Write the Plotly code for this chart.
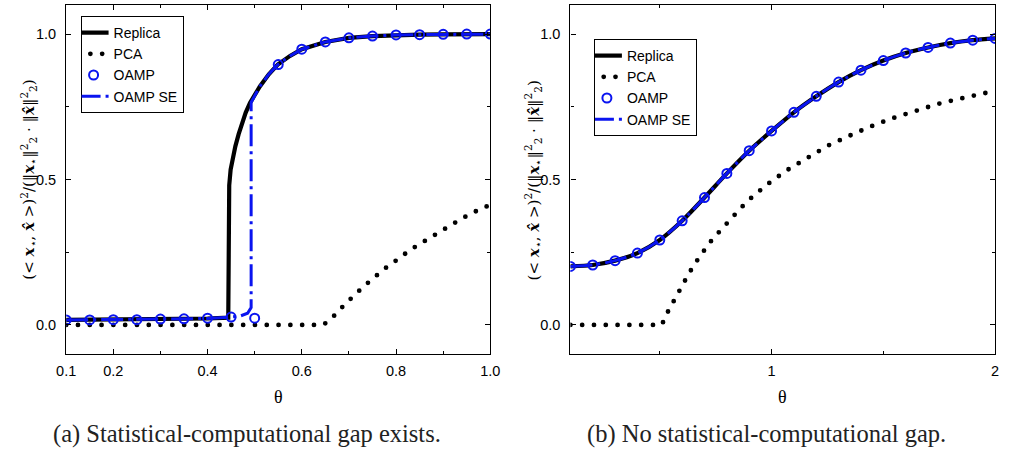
import plotly.graph_objects as go

W, H = 1010, 450

# ---------------- data: panel (a) ----------------
rep_a_theta = [0.1, 0.2, 0.3, 0.4, 0.444, 0.444, 0.446, 0.449, 0.454, 0.459, 0.466, 0.473, 0.481, 0.49,
               0.511, 0.53, 0.549, 0.575, 0.6, 0.65, 0.7, 0.75, 0.8, 0.85, 0.9, 0.95, 1.0]
rep_a_val = [0.017, 0.018, 0.020, 0.022, 0.025, 0.41, 0.48, 0.534, 0.58, 0.614, 0.656, 0.695, 0.73, 0.763,
             0.82, 0.862, 0.895, 0.925, 0.948, 0.973, 0.987, 0.993, 0.997, 0.998, 0.999, 1.0, 1.0]

se_a_theta = [0.1, 0.2, 0.3, 0.4, 0.45, 0.47, 0.485, 0.4925, 0.4925, 0.511, 0.53, 0.549, 0.575, 0.6,
              0.65, 0.7, 0.75, 0.8, 0.85, 0.9, 0.95, 1.0]
se_a_val = [0.017, 0.018, 0.020, 0.022, 0.027, 0.031, 0.040, 0.06, 0.765, 0.82, 0.862, 0.895, 0.925, 0.948,
            0.973, 0.987, 0.993, 0.997, 0.998, 0.999, 1.0, 1.0]

oamp_a_theta = [0.1, 0.15, 0.2, 0.25, 0.3, 0.35, 0.4, 0.45, 0.5, 0.55, 0.6, 0.65, 0.7, 0.75, 0.8,
                0.85, 0.9, 0.95, 1.0]
oamp_a_val = [0.017, 0.017, 0.018, 0.018, 0.020, 0.021, 0.023, 0.027, 0.023, 0.895, 0.948, 0.973, 0.987,
              0.993, 0.997, 0.998, 0.999, 1.0, 1.0]

pca_a_theta = [0.1, 0.645, 0.66, 0.676, 0.695, 0.714, 0.732, 0.752, 0.771, 0.792, 0.811, 0.832, 0.853,
               0.874, 0.896, 0.917, 0.938, 0.96, 0.983, 1.0]
pca_a_val = [0.0, 0.0, 0.017, 0.046, 0.077, 0.105, 0.134, 0.160, 0.188, 0.212, 0.236, 0.26, 0.281,
             0.302, 0.326, 0.345, 0.364, 0.384, 0.401, 0.413]

# ---------------- data: panel (b) ----------------
oamp_b_theta = [0.1, 0.2, 0.3, 0.4, 0.5, 0.6, 0.7, 0.8, 0.9, 1.0, 1.1, 1.2, 1.3, 1.4, 1.5, 1.6, 1.7,
                1.8, 1.9, 2.0]
oamp_b_val = [0.201, 0.206, 0.221, 0.247, 0.292, 0.358, 0.438, 0.521, 0.599, 0.667, 0.731, 0.786,
              0.835, 0.876, 0.909, 0.935, 0.954, 0.969, 0.979, 0.985]
rep_b_theta = oamp_b_theta
rep_b_val = oamp_b_val
se_b_theta = oamp_b_theta
se_b_val = oamp_b_val

pca_b_theta = [0.1, 0.509, 0.531, 0.555, 0.578, 0.604, 0.631, 0.66, 0.689, 0.721, 0.755, 0.79, 0.825,
               0.86, 0.897, 0.938, 0.982, 1.069, 1.157, 1.251, 1.347, 1.442, 1.542, 1.641, 1.74, 1.843,
               1.945, 2.0]
pca_b_val = [0.0, 0.0, 0.038, 0.072, 0.109, 0.143, 0.178, 0.214, 0.247, 0.281, 0.311, 0.342, 0.370,
             0.400, 0.429, 0.456, 0.484, 0.532, 0.573, 0.616, 0.650, 0.682, 0.711, 0.736, 0.759, 0.778,
             0.797, 0.805]

# tick labels
xa_ticks = [0.1, 0.2, 0.4, 0.6, 0.8, 1.0]
xa_labels = ["0.1", "0.2", "0.4", "0.6", "0.8", "1.0"]
xb_ticks = [1, 2]
xb_labels = ["1", "2"]
y_ticks = [0.0, 0.5, 1.0]
y_labels = ["0.0", "0.5", "1.0"]

captions = ["(a) Statistical-computational gap exists.", "(b) No statistical-computational gap."]

BLUE = "#0a14f0"
SE_DASH = "22px,5px,3px,5px"
DOT_DASH = "0px,11.8px"

fig = go.Figure()


def add_panel(xa, ya, leg, rep, pca, oamp, se):
    fig.add_trace(go.Scatter(x=rep[0], y=rep[1], mode="lines", name="Replica", xaxis=xa, yaxis=ya,
                             line=dict(color="black", width=4.2, shape=rep[2], smoothing=0.8),
                             legend=leg, legendrank=1))
    fig.add_trace(go.Scatter(x=pca[0], y=pca[1], mode="lines", name="PCA", xaxis=xa, yaxis=ya,
                             line=dict(color="black", width=4.8, dash=DOT_DASH), legend=leg, legendrank=2))
    fig.add_trace(go.Scatter(x=se[0], y=se[1], mode="lines", name="OAMP SE", xaxis=xa, yaxis=ya,
                             line=dict(color=BLUE, width=3, dash=SE_DASH, shape=se[2], smoothing=0.8),
                             legend=leg, legendrank=4))
    fig.add_trace(go.Scatter(x=oamp[0], y=oamp[1], mode="markers", name="OAMP", xaxis=xa, yaxis=ya,
                             marker=dict(symbol="circle-open", size=9, color=BLUE, line=dict(width=2, color=BLUE)),
                             legend=leg, legendrank=3))


add_panel("x", "y", "legend", (rep_a_theta, rep_a_val, "linear"), (pca_a_theta, pca_a_val),
          (oamp_a_theta, oamp_a_val), (se_a_theta, se_a_val, "linear"))
add_panel("x2", "y2", "legend2", (rep_b_theta, rep_b_val, "spline"), (pca_b_theta, pca_b_val),
          (oamp_b_theta, oamp_b_val), (se_b_theta, se_b_val, "spline"))

L1, R1 = 57.3, 490.0
L2, R2 = 571.7, 1005.0
TOP, BOT = 5.0, 354.0

axis_common = dict(showline=True, linecolor="black", linewidth=1.3, mirror="ticks", ticks="inside",
                   ticklen=5, tickwidth=1, tickcolor="black", showgrid=False, zeroline=False,
                   tickfont=dict(family="Liberation Sans, Arial", size=14.5, color="black"))

legend_common = dict(xanchor="left", yanchor="top", bgcolor="white", bordercolor="black", borderwidth=1,
                     tracegroupgap=0, traceorder="normal", indentation=-8,
                     font=dict(family="Liberation Sans, Arial", size=14, color="black"))

fig.update_layout(
    width=W, height=H, margin=dict(l=0, r=0, t=0, b=0),
    paper_bgcolor="white", plot_bgcolor="white",
    xaxis=dict(domain=[L1 / W, R1 / W], range=[0.1, 1.0], tickvals=xa_ticks, ticktext=xa_labels,
               minor=dict(ticks="inside", ticklen=3, dtick=0.1, tick0=0, tickcolor="black"),
               anchor="y", ticklabelstandoff=3, **axis_common),
    yaxis=dict(domain=[1 - BOT / H, 1 - TOP / H], range=[-0.1, 1.1], tickvals=y_ticks, ticktext=y_labels,
               minor=dict(ticks="inside", ticklen=3, tickvals=[0.25, 0.75], tickcolor="black"),
               anchor="x", ticklabelstandoff=6, **axis_common),
    xaxis2=dict(domain=[L2 / W, R2 / W], range=[0.1, 2.0], tickvals=xb_ticks, ticktext=xb_labels,
                minor=dict(ticks="inside", ticklen=3, tickvals=[0.5, 1.5], tickcolor="black"),
                anchor="y2", ticklabelstandoff=3, **axis_common),
    yaxis2=dict(domain=[1 - BOT / H, 1 - TOP / H], range=[-0.1, 1.1], tickvals=y_ticks, ticktext=y_labels,
                minor=dict(ticks="inside", ticklen=3, tickvals=[0.25, 0.75], tickcolor="black"),
                anchor="x2", ticklabelstandoff=6, **axis_common),
    legend=dict(x=72 / W, y=1 - 16 / H, **legend_common),
    legend2=dict(x=595.7 / W, y=1 - 39 / H, **legend_common),
    showlegend=True,
)

ytitle = ("(< <b><i>x</i></b><sub>⋆</sub>, <b><i>x̂</i></b> >)<sup>2</sup>/"
          "(‖<b><i>x</i></b><sub>⋆</sub>‖<sup>2</sup><sub>2</sub> · ‖<b><i>x̂</i></b>‖<sup>2</sup><sub>2</sub>)")

ann = []
for cx, yx, capx, cap in [((L1 + R1) / 2, 18, 242, captions[0]), ((L2 + R2) / 2, 533, 772, captions[1])]:
    ann.append(dict(text="θ", x=cx / W, y=1 - 397 / H, xref="paper", yref="paper", showarrow=False,
                    xanchor="center", yanchor="middle",
                    font=dict(family="Liberation Serif, Times New Roman", size=18, color="black")))
    ann.append(dict(text=ytitle, x=yx / W, y=1 - 180 / H, xref="paper", yref="paper", showarrow=False,
                    xanchor="center", yanchor="middle", textangle=-90,
                    font=dict(family="DejaVu Serif, Liberation Serif", size=15, color="black")))
    ann.append(dict(text=cap, x=capx / W, y=1 - 434 / H, xref="paper", yref="paper", showarrow=False,
                    xanchor="center", yanchor="middle",
                    font=dict(family="Liberation Serif, Times New Roman", size=24.5, color="#222")))
fig.update_layout(annotations=ann)

post = """
document.body.style.margin = '0';
function roundDots(){
  document.querySelectorAll('path').forEach(function(p){
    var d = p.style.strokeDasharray || p.getAttribute('stroke-dasharray') || '';
    if (d.replace(/\\s/g,'').indexOf('0px,11.8px') === 0) { p.style.strokeLinecap = 'round'; }
  });
}
roundDots();
var gd = document.getElementById('{plot_id}');
gd.on('plotly_afterplot', roundDots);
"""

fig.write_html("out.html", post_script=post, config={"displayModeBar": False})
